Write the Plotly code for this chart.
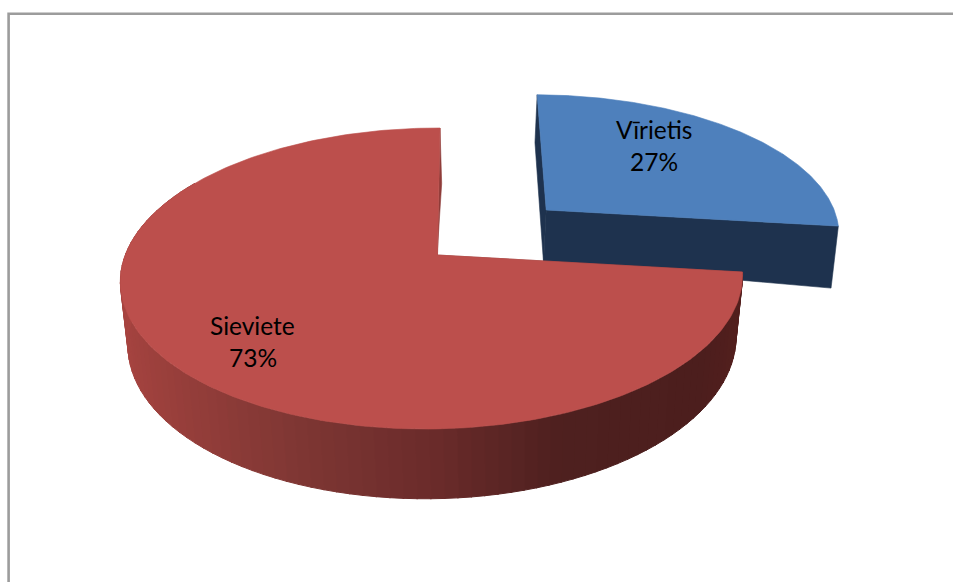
import numpy as np
import plotly.graph_objects as go

# ---- data -------------------------------------------------------------
categories = ["Vīrietis", "Sieviete"]
values = [27, 73]
percent_labels = ["27%", "73%"]
explode = [0.484, 0.0]
top_colors = ["#4E80BC", "#BC4F4C"]
blue_wall = "#1E324E"
red_inner_wall = "#8F3C39"
frame_color = "#9C9C9C"

# ---- projection of the tilted pie onto the page -----------------------
CX, CY = 437.5, 255.0
A, B, EZ = 0.156, 0.0177, 0.017
T, R = -146.8, -1.4
CAM = [dict(p=311.0, q=6.0), dict(p=307.2, q=2.9)]


def project(slice_i, x, y, bottom=False):
    c = CAM[slice_i]
    w = 1 + A * y + B * x + (EZ if bottom else 0)
    U = V = 0
    if bottom:
        if slice_i == 0:
            V = 56 + 10 * (x - 0.363)
            U = -1.0
        else:
            V = 63.0
            U = -4.5 + 6.5 * np.sqrt(x * x + y * y) - 3.5 * np.maximum(x, 0)
    return CX + (c["p"] * x + c["q"] * y + U) / w, CY + (R * x + T * y + V) / w


def point(slice_i, theta, rad, mid, bottom=False):
    ex = explode[slice_i] * np.sin(mid)
    ey = explode[slice_i] * np.cos(mid)
    return project(slice_i, ex + rad * np.sin(theta), ey + rad * np.cos(theta), bottom)


total = sum(values)
edges = np.cumsum([0] + values) / total * 2 * np.pi
mids = (edges[:-1] + edges[1:]) / 2

fig = go.Figure()


def poly(xs, ys, color, lw=0.6):
    fig.add_trace(go.Scatter(x=list(xs), y=list(ys), mode="lines", fill="toself",
                             fillcolor=color, line=dict(color=color, width=lw),
                             hoverinfo="skip", showlegend=False))


def wall_shade(sx):
    stops_x = [-1.0, -0.4, 0.0, 0.35, 0.8, 1.0]
    stops = np.array([[168, 68, 64], [128, 55, 52], [106, 43, 42],
                      [78, 32, 31], [76, 30, 29], [84, 31, 29]], dtype=float)
    rgb = [np.interp(sx, stops_x, stops[:, k]) for k in range(3)]
    return "rgb(%d,%d,%d)" % tuple(int(round(v)) for v in rgb)


def radial_wall(i, theta, color):
    m = mids[i]
    a0 = point(i, theta, 0, m)
    a1 = point(i, theta, 1, m)
    b1 = point(i, theta, 1, m, True)
    b0 = point(i, theta, 0, m, True)
    poly([a0[0], a1[0], b1[0], b0[0], a0[0]], [a0[1], a1[1], b1[1], b0[1], a0[1]], color)


def top_face(i):
    m = mids[i]
    th = np.linspace(edges[i], edges[i + 1], 240)
    ax, ay = point(i, 0, 0, m)
    px, py = point(i, th, 1, m)
    poly([ax, *px, ax], [ay, *py, ay], top_colors[i])


# blue slice
radial_wall(0, edges[0], blue_wall)
radial_wall(0, edges[1], blue_wall)
top_face(0)

# red slice
radial_wall(1, edges[1], red_inner_wall)
bands = np.arange(edges[1], np.radians(300), np.radians(2.2))
for t0 in bands:
    t1 = t0 + np.radians(2.4)
    seg = np.linspace(t0, t1, 4)
    tx, ty = point(1, seg, 1, mids[1])
    bx, by = point(1, seg[::-1], 1, mids[1], True)
    poly([*tx, *bx, tx[0]], [*ty, *by, ty[0]], wall_shade(np.sin(t0 + np.radians(1.1))), lw=1.0)
radial_wall(1, edges[2], red_inner_wall)
top_face(1)

# labels
label_rad = [0.535, 0.728]
label_shift = [-20, 8]
for i, name in enumerate(categories):
    lx, ly = point(i, mids[i], label_rad[i], mids[i])
    for text, dy in ((name, -16), (percent_labels[i], 16)):
        fig.add_annotation(x=lx, y=ly, text=text, showarrow=False,
                           yshift=-(label_shift[i] + dy), xanchor="center", yanchor="middle",
                           font=dict(family="Lato", size=24.5, color="#000000"))

fig.add_shape(type="rect", x0=8.6, y0=13.8, x1=1000, y1=700, line=dict(color=frame_color, width=2.6))

fig.update_layout(
    width=953, height=582, margin=dict(l=0, r=0, t=0, b=0),
    paper_bgcolor="white", plot_bgcolor="white", showlegend=False,
    xaxis=dict(range=[0, 953], visible=False, fixedrange=True),
    yaxis=dict(range=[582, 0], visible=False, fixedrange=True),
)
fig.write_html("out.html", config={"displayModeBar": False},
               post_script="document.body.style.margin='0';document.body.style.overflow='hidden';")
